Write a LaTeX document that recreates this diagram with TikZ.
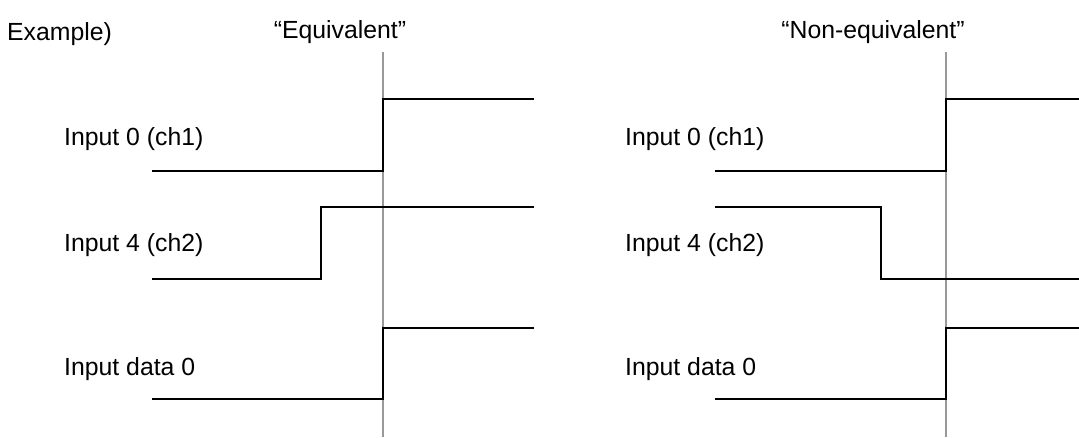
\documentclass[tikz,border=0pt]{standalone}
\usepackage{fontspec}
\setmainfont{Liberation Sans}
\begin{document}
\begin{tikzpicture}[x=1pt,y=-1pt,
  lbl/.style={anchor=base west,inner sep=0pt,font=\fontsize{24.8}{28}\selectfont},
  ttl/.style={anchor=base,inner sep=0pt,font=\fontsize{24.8}{28}\selectfont},
  wave/.style={line width=1.7pt,black,line join=miter},
  marker/.style={line width=1.3pt,gray!80}]
\useasboundingbox (0,0) rectangle (1079,437);

% headings
\node[lbl] (ex) at (7,40) {Example)};
\node[ttl] (eq) at (340,38) {“Equivalent”};
\node[ttl] (neq) at (873,38) {“Non-equivalent”};

% signal labels
\foreach \x/\p in {64/L,625/R}{
  \node[lbl] (in0\p) at (\x,145) {Input 0 (ch1)};
  \node[lbl] (in4\p) at (\x,251) {Input 4 (ch2)};
  \node[lbl] (dat\p) at (\x,375) {Input data 0};
}

% reference instants
\coordinate (tLtop) at (383,52);
\coordinate (tLbot) at (383,437);
\coordinate (tRtop) at (946,52);
\coordinate (tRbot) at (946,437);
\draw[marker] (tLtop) -- (tLbot);
\draw[marker] (tRtop) -- (tRbot);

% equivalent case
\draw[wave] (152,171) -- (383,171) -- (383,99) -- (534,99);
\draw[wave] (152,279) -- (321,279) -- (321,207) -- (534,207);
\draw[wave] (152,399) -- (383,399) -- (383,328) -- (534,328);

% non-equivalent case
\draw[wave] (715,171) -- (946,171) -- (946,99) -- (1079,99);
\draw[wave] (715,207) -- (881,207) -- (881,279) -- (1079,279);
\draw[wave] (715,399) -- (946,399) -- (946,328) -- (1079,328);
\end{tikzpicture}
\end{document}
